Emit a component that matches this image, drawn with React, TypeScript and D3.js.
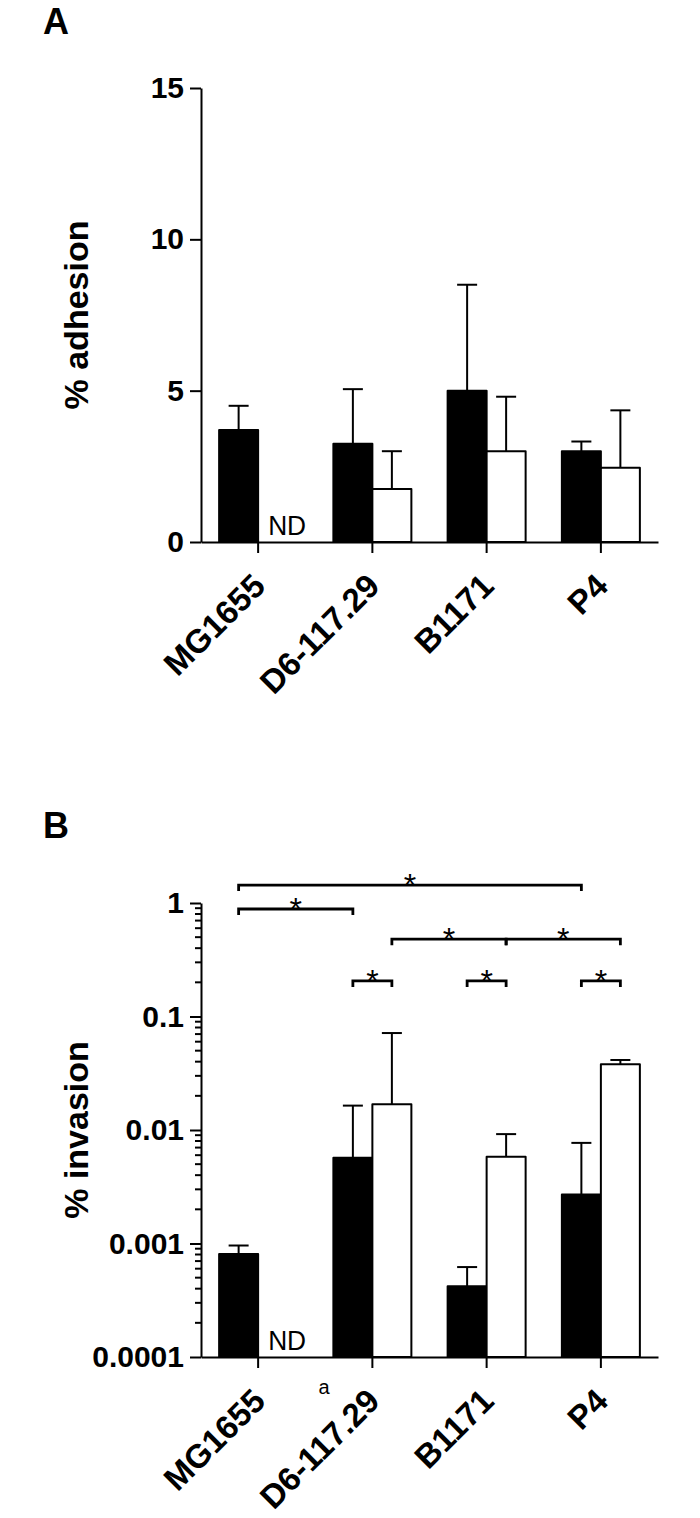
import React, {useEffect, useRef} from "react";
import * as d3 from "d3";

// strains on the x axis
const strains = ["MG1655", "D6-117.29", "B1171", "P4"];
const groups = ["filled", "open"];

// % adhesion (panel A): means and upper error (SD)
const adhesionFilled = [3.7, 3.25, 5.0, 3.0];
const adhesionFilledErr = [0.8, 1.8, 3.5, 0.32];
const adhesionOpen = [null, 1.75, 3.0, 2.45];
const adhesionOpenErr = [null, 1.25, 1.8, 1.9];
const adhesionTicks = [0, 5, 10, 15];

// % invasion (panel B), log scale
const invasionFilled = [0.00081, 0.0057, 0.00042, 0.0027];
const invasionFilledErr = [0.00015, 0.0107, 0.0002, 0.005];
const invasionOpen = [null, 0.0169, 0.0058, 0.038];
const invasionOpenErr = [null, 0.0546, 0.0034, 0.0034];
const invasionTicks = [0.0001, 0.001, 0.01, 0.1, 1];
const invasionTickLabels = ["0.0001", "0.001", "0.01", "0.1", "1"];

// significance brackets: [strain, group] -> [strain, group], height in data units
const brackets = [
    {from: ["MG1655", "filled"], to: ["P4", "filled"], at: 1.44},
    {from: ["MG1655", "filled"], to: ["D6-117.29", "filled"], at: 0.885},
    {from: ["D6-117.29", "open"], to: ["B1171", "open"], at: 0.48},
    {from: ["B1171", "open"], to: ["P4", "open"], at: 0.48},
    {from: ["D6-117.29", "filled"], to: ["D6-117.29", "open"], at: 0.206},
    {from: ["B1171", "filled"], to: ["B1171", "open"], at: 0.206},
    {from: ["P4", "filled"], to: ["P4", "open"], at: 0.206},
];

const FONT = "'Liberation Sans', Arial, sans-serif";

export default function App() {
    const svgRef = useRef(null);
    const width = 700;
    const height = 1518;

    useEffect(() => {
        const svg = d3.select(svgRef.current);
        svg.selectAll("*").remove();

        const x = d3.scaleBand().domain(strains).range([201, 658]).padding(0);
        const xi = d3.scaleBand().domain(groups).range([-39, 39]);
        const barX = (s, g) => x(s) + x.bandwidth() / 2 + xi(g);
        const barMid = (s, g) => barX(s, g) + xi.bandwidth() / 2;

        function panel(y, baseY, filled, filledErr, open, openErr, tickVals, tickFmt, log, title, letter, letterY) {
            const g = svg.append("g");

            // bars
            const rows = [];
            strains.forEach((s, i) => {
                rows.push({s, grp: "filled", v: filled[i], e: filledErr[i]});
                rows.push({s, grp: "open", v: open[i], e: openErr[i]});
            });
            const valid = rows.filter(d => d.v != null);

            g.selectAll("line.err")
                .data(valid)
                .enter()
                .append("line")
                .attr("x1", d => barMid(d.s, d.grp))
                .attr("x2", d => barMid(d.s, d.grp))
                .attr("y1", d => y(d.v))
                .attr("y2", d => y(d.v + d.e))
                .attr("stroke", "#000")
                .attr("stroke-width", 2);
            g.selectAll("line.cap")
                .data(valid)
                .enter()
                .append("line")
                .attr("x1", d => barMid(d.s, d.grp) - 10)
                .attr("x2", d => barMid(d.s, d.grp) + 10)
                .attr("y1", d => y(d.v + d.e))
                .attr("y2", d => y(d.v + d.e))
                .attr("stroke", "#000")
                .attr("stroke-width", 2);

            g.selectAll("rect")
                .data(valid)
                .enter()
                .append("rect")
                .attr("x", d => barX(d.s, d.grp))
                .attr("width", xi.bandwidth())
                .attr("y", d => y(d.v))
                .attr("height", d => baseY - y(d.v))
                .attr("fill", d => d.grp === "filled" ? "#000" : "#fff")
                .attr("stroke", "#000")
                .attr("stroke-width", 2)
                .attr("stroke-linejoin", "round");

            // ND labels
            rows.filter(d => d.v == null).forEach(d => {
                g.append("text")
                    .attr("x", barX(d.s, d.grp) + 10)
                    .attr("y", baseY - 7)
                    .attr("fill", "#000")
                    .attr("font-family", FONT)
                    .attr("font-size", 28)
                    .attr("textLength", 38)
                    .attr("lengthAdjust", "spacingAndGlyphs")
                    .text("ND");
            });

            // y axis
            const yAxis = g.append("g")
                .attr("transform", "translate(201,0)")
                .call(d3.axisLeft(y).tickValues(tickVals).tickFormat(tickFmt).tickSize(11).tickSizeOuter(0).tickPadding(6));
            yAxis.select(".domain").attr("stroke-width", 2);
            yAxis.selectAll(".tick line").attr("stroke-width", 2);
            yAxis.selectAll(".tick text")
                .attr("font-family", FONT)
                .attr("font-weight", "bold")
                .attr("font-size", 30)
                .attr("fill", "#000");

            if (log) {
                const minor = [];
                for (let e = -4; e < 0; e++) {
                    for (let m = 2; m <= 9; m++) minor.push(m * Math.pow(10, e));
                }
                g.selectAll("line.minor")
                    .data(minor)
                    .enter()
                    .append("line")
                    .attr("x1", 195)
                    .attr("x2", 201)
                    .attr("y1", d => y(d))
                    .attr("y2", d => y(d))
                    .attr("stroke", "#000")
                    .attr("stroke-width", 2);
            }

            // x axis
            const xAxis = g.append("g")
                .attr("transform", `translate(0,${baseY})`)
                .call(d3.axisBottom(x).tickSize(11).tickSizeOuter(0).tickFormat(() => ""));
            xAxis.select(".domain").attr("stroke-width", 2);
            xAxis.selectAll(".tick line").attr("stroke-width", 2);

            strains.forEach(s => {
                const cx = x(s) + x.bandwidth() / 2 + 9;
                const cy = baseY + 46;
                g.append("text")
                    .attr("transform", `translate(${cx},${cy}) rotate(-45)`)
                    .attr("text-anchor", "end")
                    .attr("font-family", FONT)
                    .attr("font-weight", "bold")
                    .attr("font-size", 33)
                    .text(s);
            });

            // y title
            const [r0, r1] = y.range();
            g.append("text")
                .attr("transform", `translate(88,${(r0 + r1) / 2}) rotate(-90)`)
                .attr("text-anchor", "middle")
                .attr("font-family", FONT)
                .attr("font-weight", "bold")
                .attr("font-size", 34)
                .text(title);

            // panel letter
            g.append("text")
                .attr("x", 43)
                .attr("y", letterY)
                .attr("font-family", FONT)
                .attr("font-weight", "bold")
                .attr("font-size", 36)
                .text(letter);
            return g;
        }

        const yA = d3.scaleLinear().domain([0, 15]).range([542, 88]);
        panel(yA, 542, adhesionFilled, adhesionFilledErr, adhesionOpen, adhesionOpenErr,
            adhesionTicks, d => String(d), false, "% adhesion", "A", 34);

        const yB = d3.scaleLog().domain([0.0001, 1]).range([1357, 903]);
        const gB = panel(yB, 1357, invasionFilled, invasionFilledErr, invasionOpen, invasionOpenErr,
            invasionTicks, (d, i) => invasionTickLabels[i], true, "% invasion", "B", 838);

        // significance brackets
        brackets.forEach(b => {
            const x1 = barMid(b.from[0], b.from[1]);
            const x2 = barMid(b.to[0], b.to[1]);
            const yy = yB(b.at);
            gB.append("path")
                .attr("d", `M${x1},${yy + 6}V${yy}H${x2}V${yy + 6}`)
                .attr("fill", "none")
                .attr("stroke", "#000")
                .attr("stroke-width", 2.8);
            gB.append("text")
                .attr("x", (x1 + x2) / 2)
                .attr("y", yy + 11)
                .attr("text-anchor", "middle")
                .attr("font-family", FONT)
                .attr("font-size", 32)
                .text("*");
        });

        gB.append("text")
            .attr("x", 324)
            .attr("y", 1394)
            .attr("text-anchor", "middle")
            .attr("font-family", FONT)
            .attr("font-size", 20)
            .text("a");
    }, []);

    return <svg
        ref={svgRef}
        width={width}
        height={height}
        style={{position: "absolute", left: 0, top: 0, background: "#fff"}}
    />;
}
